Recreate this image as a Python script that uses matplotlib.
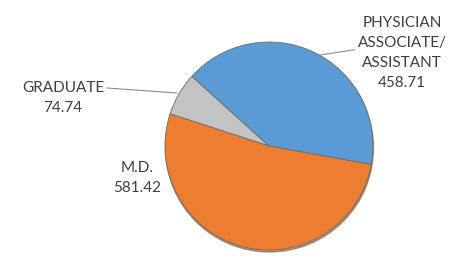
import matplotlib
matplotlib.use("Agg")
import matplotlib.pyplot as plt
from matplotlib.patches import Circle

# data
categories = ["GRADUATE", "PHYSICIAN\nASSOCIATE/\nASSISTANT", "M.D."]
values = [74.74, 458.71, 581.42]
colors = ["#C3C3C3", "#5B9BD5", "#ED7D31"]

plt.rcParams["font.family"] = ["Lato", "DejaVu Sans"]

fig = plt.figure(figsize=(4.5, 2.56), dpi=100)
ax = fig.add_axes([0, 0, 1, 1])

cx, cy, r = 269, 110, 104

# soft bottom shadow for the Excel-like bevel
ax.add_patch(Circle((cx + 0.5, cy - 2), r, color="#7a4a20", alpha=0.55, zorder=1))

wedges, _ = ax.pie(values, colors=colors, startangle=162, counterclock=False,
                   center=(cx, cy), radius=r, frame=True,
                   wedgeprops=dict(edgecolor="#6b6b6b", linewidth=0.6))
for w in wedges:
    w.set_zorder(2)
ax.set_xlim(0, 450)
ax.set_ylim(0, 256)
ax.set_aspect("equal")
ax.axis("off")

txt = dict(fontsize=11, color="#404040", ha="center", va="center", linespacing=1.55)

# graduate label with leader line
ax.annotate(f"{categories[0]}\n{values[0]:.2f}", xy=(177, 256 - 93), xytext=(63, 256 - 98),
            arrowprops=dict(arrowstyle="-", color="#8c8c8c", lw=0.8,
                            shrinkA=0, shrinkB=0, relpos=(1.0, 0.8)), **txt)

# physician associate label with leader line
ax.annotate(f"{categories[1]}\n{values[1]:.2f}", xy=(320, 256 - 55), xytext=(402, 256 - 53),
            arrowprops=dict(arrowstyle="-", color="#8c8c8c", lw=0.8,
                            shrinkA=0, shrinkB=0, relpos=(0.0, 0.55)), **txt)

# M.D. label
ax.text(137, 256 - 178, f"{categories[2]}\n{values[2]:.2f}", **txt)

fig.savefig("out.png", dpi=100)
